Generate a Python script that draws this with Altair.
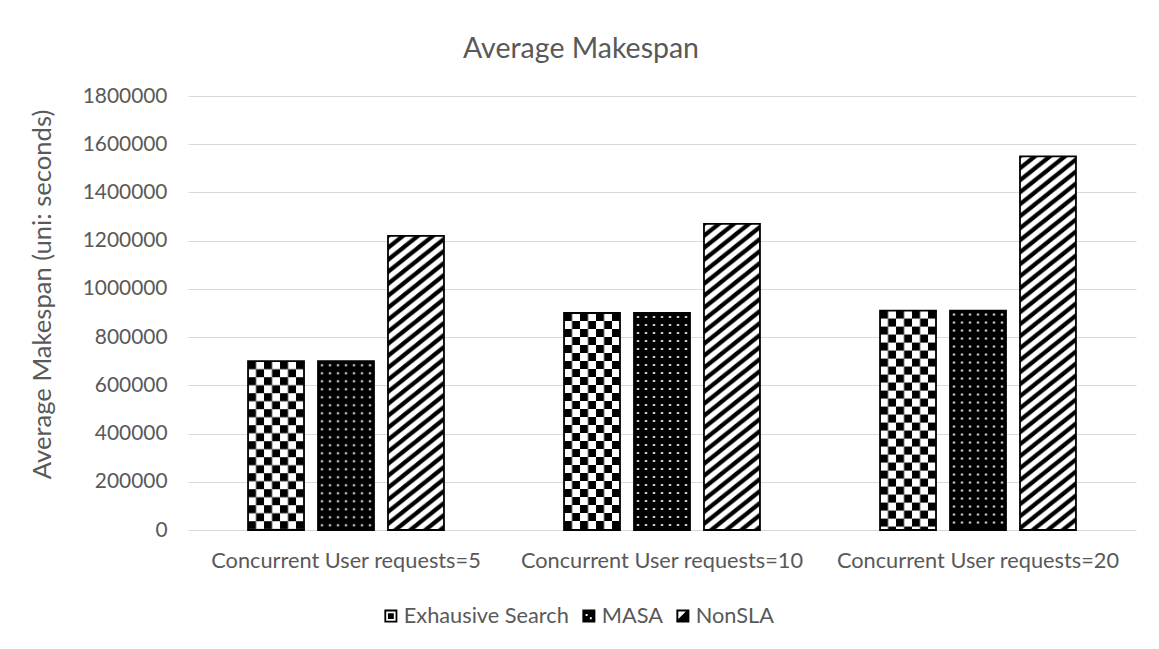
import base64
import altair as alt
import pandas as pd

# ---------------- data ----------------
CATEGORIES = [
    "Concurrent User requests=5",
    "Concurrent User requests=10",
    "Concurrent User requests=20",
]
SERIES = ["Exhausive Search", "MASA", "NonSLA"]
EXHAUSIVE_SEARCH = [700000, 900000, 910000]
MASA = [700000, 900000, 910000]
NONSLA = [1220000, 1270000, 1550000]
Y_TICKS = [0, 200000, 400000, 600000, 800000, 1000000, 1200000, 1400000, 1600000, 1800000]
TITLE = "Average Makespan"
Y_TITLE = "Average Makespan (uni: seconds)"

# ---------------- styles ----------------
FONT = "Lato"
TXT = "#595959"
GRID = "#d9d9d9"


def svg_uri(pattern_body, w, h):
    svg = (
        '<svg xmlns="http://www.w3.org/2000/svg" width="100%" height="100%">'
        '<defs><pattern id="p" x="0" y="0" width="{w}" height="{h}" patternUnits="userSpaceOnUse">'
        '{body}</pattern></defs>'
        '<rect x="0" y="0" width="100%" height="100%" fill="url(#p)"/></svg>'
    ).format(w=w, h=h, body=pattern_body)
    return "data:image/svg+xml;base64," + base64.b64encode(svg.encode("utf-8")).decode("ascii")


CHECKER = svg_uri(
    '<rect width="16" height="16" fill="#ffffff"/>'
    '<rect x="0" y="0" width="8" height="8" fill="#000000"/>'
    '<rect x="8" y="8" width="8" height="8" fill="#000000"/>',
    16, 16,
)
DOTS = svg_uri(
    '<rect width="8" height="8" fill="#000000"/>'
    '<rect x="3" y="3" width="2" height="2" fill="#ffffff"/>',
    8, 8,
)
SW, SH = 15, 12
STRIPES = svg_uri(
    '<rect width="{w}" height="{h}" fill="#ffffff"/>'
    '<path d="M{a},{b} L{c},{d} M{e},{b} L{f},{d} M{g},{b} L{i},{d}" '
    'stroke="#000000" stroke-width="4.2" fill="none"/>'.format(
        w=SW, h=SH,
        a=-SW, b=2 * SH, c=2 * SW, d=-SH,
        e=0, f=3 * SW,
        g=-2 * SW, i=SW,
    ),
    SW, SH,
)
PATTERNS = {"Exhausive Search": CHECKER, "MASA": DOTS, "NonSLA": STRIPES}

SHAPES = [
    # outer square ring, white gap, inner black square
    "M-1,-1H1V1H-1Z M-0.72,-0.72V0.72H0.72V-0.72Z M-0.45,-0.45H0.45V0.45H-0.45Z",
    # black square with two white dots
    "M-1,-1H1V1H-1Z M-0.5,-0.3V0.0H-0.2V-0.3Z M0.15,0.2V0.5H0.45V0.2Z",
    # black square with white upper-left triangle
    "M-1,-1H1V1H-1Z M-0.7,-0.7V0.45L0.45,-0.7Z",
]

values = {"Exhausive Search": EXHAUSIVE_SEARCH, "MASA": MASA, "NonSLA": NONSLA}
rows = []
for ci, cat in enumerate(CATEGORIES):
    for s in SERIES:
        rows.append({"category": cat, "series": s, "value": values[s][ci], "pattern": PATTERNS[s]})
df = pd.DataFrame(rows)

x = alt.X(
    "category:N",
    sort=CATEGORIES,
    title=None,
    scale=alt.Scale(paddingInner=0.38, paddingOuter=0.19),
    axis=alt.Axis(
        labelFont=FONT, labelFontSize=21.75, labelColor=TXT, labelPadding=20,
        labelAngle=0, labelLimit=500, ticks=False, tickSize=0, domain=False, grid=False,
    ),
)
xo = alt.XOffset("series:N", sort=SERIES, scale=alt.Scale(paddingInner=0.2, paddingOuter=0))
y = alt.Y(
    "value:Q",
    scale=alt.Scale(domain=[0, 1800000], nice=False, zero=True),
    axis=alt.Axis(
        title=Y_TITLE, values=Y_TICKS, format="d",
        labelFont=FONT, labelFontSize=20.9, labelColor=TXT, labelPadding=21,
        ticks=False, tickSize=0, domain=False,
        grid=True, gridColor=GRID, gridWidth=1,
        titleFont=FONT, titleFontSize=25.6, titleColor=TXT, titleFontWeight="normal",
        titleY=198, titleAlign="center", titlePadding=27,
    ),
)

fills = alt.Chart(df).mark_image(aspect=False).encode(
    x=x, xOffset=xo, y=y, y2=alt.datum(0), url=alt.Url("pattern:N")
)
outline = alt.Chart(df).mark_bar(fill="transparent", stroke="black", strokeWidth=1.8).encode(
    x=x, xOffset=xo, y=y
)
legend_layer = alt.Chart(df).mark_point(filled=True, opacity=0, color="black", size=169).encode(
    x=x, xOffset=xo, y=y,
    shape=alt.Shape(
        "series:N", sort=SERIES,
        scale=alt.Scale(domain=SERIES, range=SHAPES),
        legend=alt.Legend(
            title=None, orient="none", legendX=192, legendY=509, direction="horizontal",
            symbolSize=169, symbolOpacity=1, symbolStrokeWidth=0, symbolFillColor="black",
            labelFont=FONT, labelFontSize=21.75, labelColor=TXT, labelLimit=500,
            labelOffset=2, columnPadding=9, padding=0,
        ),
    ),
)

chart = (
    alt.layer(fills, outline, legend_layer)
    .properties(
        width=948,
        height=434,
        padding={"left": 180, "top": 88, "right": 15, "bottom": 100},
        autosize=alt.AutoSizeParams(type="none"),
        title=alt.TitleParams(
            text=TITLE, font=FONT, fontSize=28.5, color=TXT, fontWeight="normal",
            anchor="middle", frame="group", dx=-81, dy=41, offset=40, baseline="alphabetic",
        ),
        background="white",
    )
    .configure_view(stroke=None)
)

chart.save("out.html", embed_options={"renderer": "svg", "actions": False})
